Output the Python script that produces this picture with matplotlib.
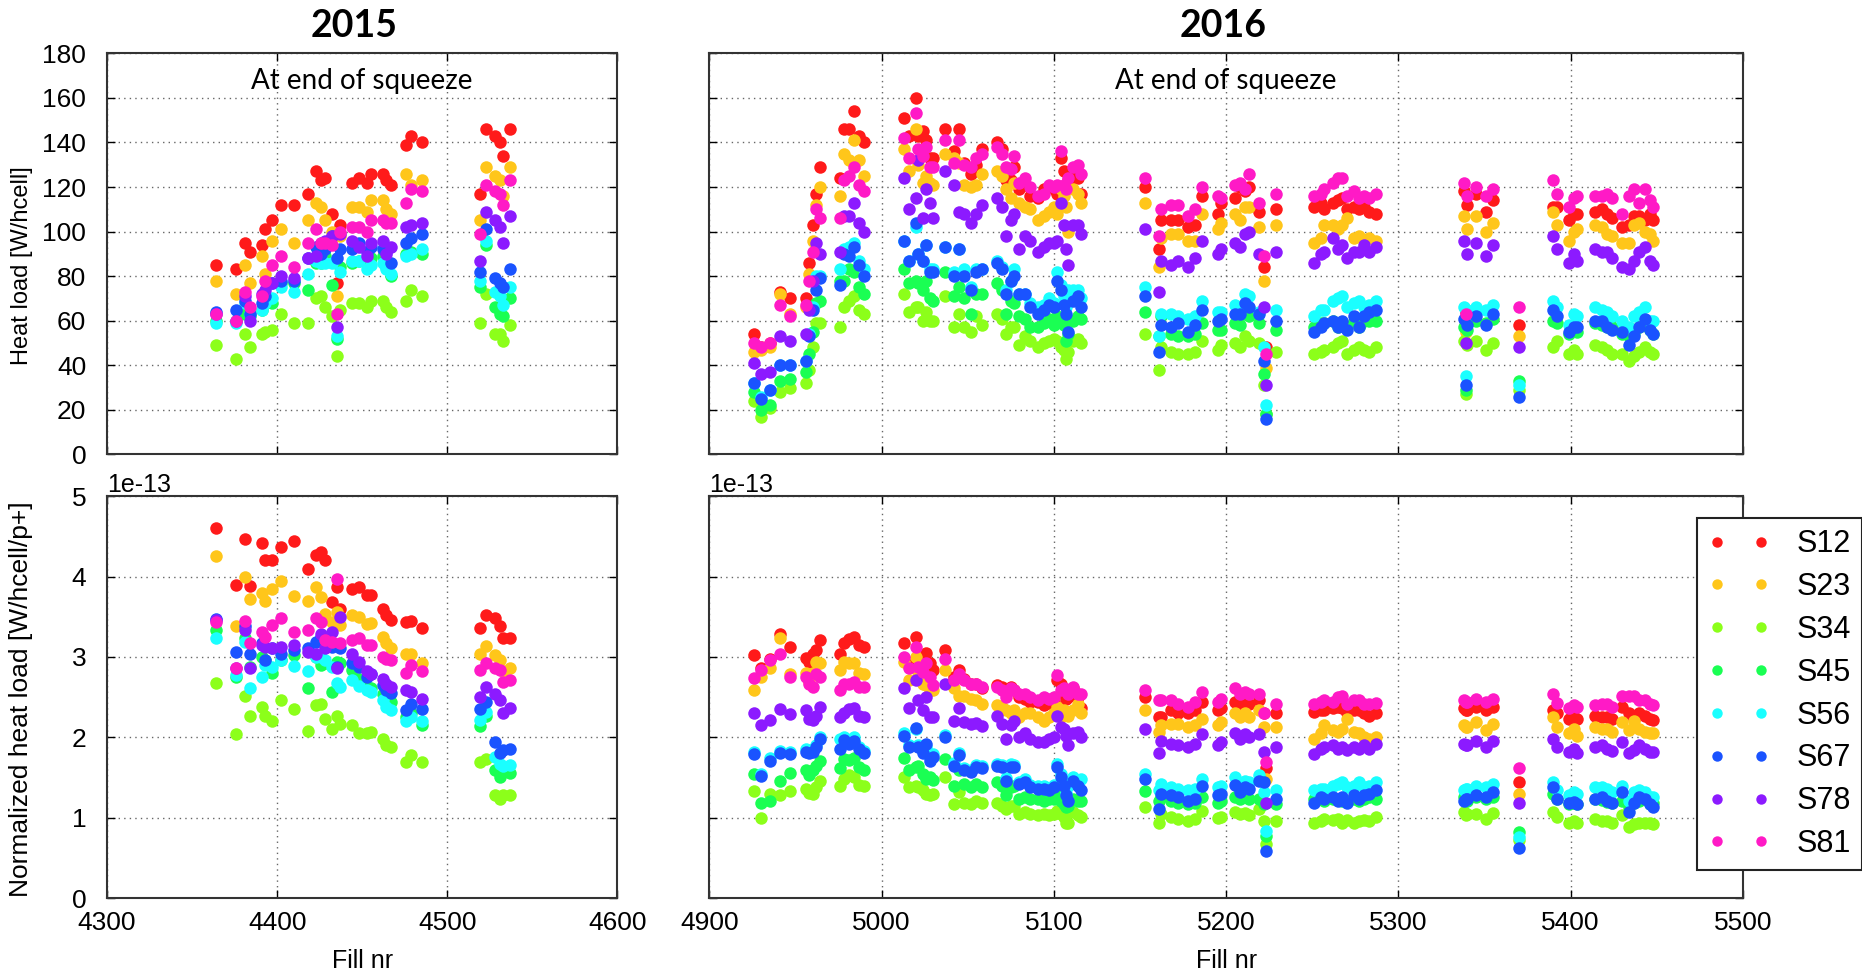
import numpy as np
import matplotlib
matplotlib.use("Agg")
import matplotlib.pyplot as plt
from matplotlib.lines import Line2D

plt.rcParams['font.family'] = ['Liberation Sans', 'DejaVu Sans']
plt.rcParams['axes.unicode_minus'] = False

sectors = ['S12', 'S23', 'S34', 'S45', 'S56', 'S67', 'S78', 'S81']
colors = ['#ff1a1a', '#ffc61a', '#8cff1a', '#1aff53', '#1affff', '#1a53ff', '#8c1aff', '#ff1ac6']

# 2015 fills, heat load at end of squeeze [W/hcell], normalized [1e-13 W/hcell/p+]
# columns: S12 S23 S34 S45 S56 S67 S78 S81
fills_2015 = [4364, 4376, 4381, 4384, 4391, 4393, 4397, 4402, 4410, 4418, 4423, 4426,
              4428, 4432, 4435, 4437, 4444, 4448, 4453, 4455, 4462, 4464, 4467, 4476,
              4479, 4485, 4519, 4523, 4528, 4531, 4533, 4537]
heat_2015 = [
    [85, 78, 49, 60, 59, 64, 63, 63],
    [83, 72, 43, 60, 59, 65, 60, 60],
    [95, 85, 54, 63, 68, 69, 71, 73],
    [91, 77, 48, 62, 63, 63, 60, 66],
    [94, 89, 54, 65, 65, 68, 72, 71],
    [101, 81, 55, 68, 68, 71, 74, 78],
    [105, 96, 56, 68, 70, 77, 77, 85],
    [112, 101, 63, 77, 75, 78, 80, 89],
    [112, 95, 59, 77, 73, 78, 79, 84],
    [117, 105, 59, 74, 81, 88, 88, 95],
    [127, 113, 70, 86, 87, 93, 89, 101],
    [123, 111, 71, 86, 86, 90, 95, 95],
    [124, 105, 66, 89, 86, 92, 96, 95],
    [108, 100, 62, 76, 86, 98, 98, 94],
    [77, 71, 44, 52, 53, 88, 57, 63],
    [103, 98, 65, 84, 82, 92, 99, 100],
    [122, 111, 68, 86, 87, 92, 96, 102],
    [124, 111, 68, 87, 87, 95, 93, 102],
    [122, 109, 66, 86, 83, 91, 89, 100],
    [126, 114, 69, 88, 85, 93, 95, 105],
    [126, 114, 69, 89, 86, 92, 96, 105],
    [123, 110, 66, 84, 83, 91, 90, 104],
    [121, 108, 64, 80, 81, 86, 93, 104],
    [139, 126, 69, 90, 89, 95, 102, 113],
    [143, 121, 74, 91, 90, 97, 103, 119],
    [140, 123, 71, 90, 92, 99, 104, 118],
    [117, 105, 59, 75, 78, 82, 87, 99],
    [146, 129, 72, 94, 96, 101, 109, 121],
    [143, 125, 54, 66, 73, 79, 105, 118],
    [140, 123, 54, 63, 71, 77, 102, 117],
    [134, 116, 51, 62, 67, 75, 95, 112],
    [146, 129, 58, 70, 75, 83, 107, 123],
]
norm_2015 = [
    [4.60, 4.25, 2.68, 3.33, 3.24, 3.47, 3.46, 3.44],
    [3.90, 3.38, 2.04, 2.75, 2.77, 3.06, 2.86, 2.86],
    [4.47, 3.99, 2.52, 3.23, 3.19, 3.38, 3.33, 3.45],
    [3.88, 3.72, 2.27, 2.88, 2.61, 3.04, 2.86, 3.17],
    [4.42, 3.79, 2.38, 3.00, 2.75, 3.17, 3.15, 3.31],
    [4.21, 3.70, 2.26, 2.96, 2.90, 2.96, 3.13, 3.25],
    [4.21, 3.84, 2.21, 2.80, 2.88, 3.11, 3.11, 3.40],
    [4.37, 3.95, 2.46, 2.96, 2.96, 3.04, 3.13, 3.48],
    [4.44, 3.76, 2.35, 3.02, 2.89, 3.09, 3.15, 3.31],
    [4.10, 3.69, 2.08, 2.61, 2.82, 3.11, 3.06, 3.33],
    [4.27, 3.87, 2.40, 3.00, 3.00, 3.19, 3.04, 3.49],
    [4.31, 3.75, 2.42, 2.90, 3.00, 3.25, 3.29, 3.44],
    [4.20, 3.54, 2.23, 2.92, 2.96, 3.21, 3.11, 3.21],
    [3.68, 3.44, 2.11, 2.57, 2.88, 3.13, 3.31, 3.19],
    [3.87, 3.56, 2.27, 2.94, 2.68, 2.88, 2.86, 3.97],
    [3.60, 3.40, 2.17, 2.92, 2.63, 3.11, 3.50, 3.17],
    [3.85, 3.52, 2.16, 2.84, 2.71, 2.92, 3.04, 3.21],
    [3.87, 3.50, 2.05, 2.73, 2.64, 2.88, 2.94, 3.23],
    [3.77, 3.41, 2.05, 2.63, 2.59, 2.75, 2.82, 3.15],
    [3.77, 3.42, 2.07, 2.61, 2.57, 2.79, 2.79, 3.15],
    [3.60, 3.25, 1.98, 2.54, 2.46, 2.65, 2.73, 3.00],
    [3.52, 3.18, 1.90, 2.46, 2.38, 2.59, 2.67, 2.97],
    [3.46, 3.11, 1.88, 2.44, 2.34, 2.55, 2.63, 2.96],
    [3.44, 3.04, 1.70, 2.25, 2.21, 2.34, 2.59, 2.80],
    [3.45, 3.04, 1.78, 2.30, 2.25, 2.41, 2.57, 2.90],
    [3.36, 2.93, 1.70, 2.15, 2.20, 2.35, 2.48, 2.83],
    [3.36, 3.04, 1.70, 2.14, 2.22, 2.35, 2.50, 2.84],
    [3.52, 3.14, 1.73, 2.27, 2.32, 2.44, 2.63, 2.93],
    [3.48, 3.02, 1.28, 1.59, 1.76, 1.94, 2.54, 2.86],
    [3.38, 2.96, 1.23, 1.51, 1.67, 1.80, 2.46, 2.84],
    [3.23, 2.83, 1.28, 1.57, 1.64, 1.84, 2.30, 2.69],
    [3.23, 2.86, 1.29, 1.56, 1.66, 1.85, 2.36, 2.72],
]

fills_2016 = [4926, 4930, 4935, 4941, 4947, 4956, 4958, 4960, 4962, 4964, 4976, 4978,
              4981, 4984, 4987, 4990, 5013, 5016, 5020, 5021, 5024, 5026, 5028, 5030,
              5037, 5042, 5045, 5048, 5052, 5055, 5058, 5067, 5070, 5072, 5075, 5077,
              5080, 5083, 5086, 5091, 5094, 5097, 5100, 5102, 5104, 5106, 5107, 5108,
              5111, 5114, 5116, 5153, 5161, 5162, 5168, 5172, 5178, 5182, 5186, 5195,
              5197, 5205, 5208, 5211, 5213, 5219, 5222, 5223, 5229, 5251, 5255, 5257,
              5262, 5265, 5267, 5270, 5274, 5277, 5280, 5283, 5287, 5338, 5339, 5340,
              5345, 5351, 5355, 5370, 5390, 5392, 5399, 5402, 5404, 5414, 5418, 5421,
              5424, 5430, 5434, 5437, 5440, 5443, 5446, 5448]
heat_2016 = [
    [54, 46, 24, 28, 32, 32, 41, 50],
    [48, 47, 17, 20, 26, 25, 36, 48],
    [50, 48, 21, 22, 29, 29, 37, 50],
    [73, 72, 28, 33, 40, 40, 53, 67],
    [70, 63, 30, 34, 40, 40, 51, 62],
    [70, 66, 32, 37, 42, 42, 54, 67],
    [86, 81, 38, 45, 54, 53, 65, 78],
    [103, 96, 48, 55, 66, 65, 78, 91],
    [117, 112, 59, 68, 80, 74, 95, 110],
    [129, 120, 59, 69, 80, 79, 90, 106],
    [124, 116, 57, 78, 83, 76, 91, 106],
    [146, 135, 66, 78, 92, 90, 107, 123],
    [146, 132, 69, 83, 93, 89, 107, 125],
    [154, 141, 71, 82, 95, 93, 113, 129],
    [143, 132, 65, 75, 87, 85, 104, 121],
    [140, 125, 63, 72, 83, 80, 100, 118],
    [151, 137, 72, 83, 96, 96, 124, 142],
    [143, 127, 64, 77, 87, 87, 110, 133],
    [160, 146, 66, 78, 102, 104, 115, 153],
    [143, 130, 66, 77, 90, 90, 132, 137],
    [145, 122, 60, 74, 87, 87, 106, 134],
    [141, 125, 64, 78, 94, 94, 119, 138],
    [133, 122, 60, 70, 83, 82, 113, 129],
    [133, 121, 60, 69, 83, 82, 106, 129],
    [146, 135, 71, 82, 93, 93, 127, 141],
    [136, 133, 57, 71, 82, 80, 121, 131],
    [146, 131, 63, 75, 92, 92, 109, 141],
    [131, 121, 57, 70, 83, 80, 108, 130],
    [126, 120, 55, 63, 75, 74, 104, 129],
    [130, 121, 62, 72, 83, 82, 108, 133],
    [137, 126, 58, 72, 83, 83, 112, 135],
    [140, 127, 63, 77, 87, 86, 115, 138],
    [137, 125, 61, 74, 84, 83, 111, 135],
    [123, 119, 54, 63, 74, 72, 98, 129],
    [123, 115, 57, 69, 78, 78, 105, 128],
    [129, 122, 57, 68, 83, 80, 108, 134],
    [119, 113, 49, 62, 72, 72, 92, 122],
    [121, 111, 53, 61, 72, 72, 98, 124],
    [116, 110, 51, 57, 68, 66, 96, 120],
    [115, 105, 48, 57, 66, 63, 91, 116],
    [119, 107, 50, 59, 67, 65, 93, 117],
    [120, 109, 51, 61, 70, 67, 95, 121],
    [119, 111, 52, 58, 68, 66, 95, 120],
    [117, 108, 51, 62, 82, 78, 96, 121],
    [133, 119, 48, 60, 76, 74, 113, 136],
    [127, 116, 47, 58, 71, 67, 103, 121],
    [120, 111, 43, 51, 66, 63, 92, 119],
    [123, 100, 46, 54, 74, 55, 85, 124],
    [124, 119, 51, 60, 74, 69, 103, 129],
    [124, 117, 52, 62, 74, 71, 103, 130],
    [117, 113, 50, 61, 70, 66, 99, 126],
    [120, 113, 54, 64, 75, 71, 101, 124],
    [92, 84, 38, 53, 53, 46, 73, 98],
    [105, 97, 48, 62, 63, 58, 87, 110],
    [105, 99, 46, 54, 63, 57, 85, 112],
    [105, 99, 45, 53, 62, 59, 87, 112],
    [102, 96, 45, 53, 61, 55, 84, 107],
    [103, 96, 46, 54, 62, 58, 88, 110],
    [116, 108, 51, 59, 69, 65, 96, 120],
    [108, 101, 47, 56, 64, 60, 90, 116],
    [113, 104, 49, 56, 64, 61, 92, 115],
    [115, 108, 50, 59, 67, 63, 95, 121],
    [120, 105, 48, 58, 66, 63, 93, 122],
    [118, 111, 53, 63, 72, 68, 99, 119],
    [120, 111, 51, 62, 71, 66, 100, 126],
    [109, 102, 50, 59, 64, 63, 90, 113],
    [84, 78, 31, 36, 48, 42, 66, 89],
    [48, 39, 18, 18, 22, 16, 31, 45],
    [110, 103, 46, 56, 65, 60, 91, 117],
    [111, 95, 45, 57, 62, 55, 86, 116],
    [113, 97, 46, 59, 65, 57, 90, 117],
    [110, 103, 47, 59, 65, 59, 91, 119],
    [113, 103, 48, 60, 69, 60, 97, 122],
    [114, 101, 50, 57, 70, 57, 92, 124],
    [115, 103, 51, 59, 71, 60, 94, 124],
    [110, 106, 45, 57, 66, 56, 88, 116],
    [111, 97, 47, 60, 68, 62, 91, 118],
    [110, 98, 48, 57, 69, 57, 91, 115],
    [111, 96, 47, 60, 66, 62, 94, 116],
    [109, 97, 46, 60, 67, 64, 91, 115],
    [108, 96, 48, 60, 69, 65, 93, 117],
    [118, 107, 51, 57, 66, 61, 96, 122],
    [64, 55, 27, 29, 35, 31, 50, 63],
    [112, 101, 49, 56, 65, 58, 90, 116],
    [117, 107, 51, 60, 66, 62, 95, 120],
    [109, 100, 47, 59, 65, 58, 89, 116],
    [114, 104, 50, 61, 67, 63, 94, 119],
    [58, 53, 29, 33, 31, 26, 48, 66],
    [111, 109, 48, 60, 69, 65, 98, 123],
    [111, 103, 51, 59, 66, 62, 92, 117],
    [105, 96, 45, 54, 58, 55, 86, 111],
    [108, 100, 47, 56, 63, 57, 90, 115],
    [108, 101, 45, 55, 62, 57, 87, 116],
    [109, 103, 49, 59, 66, 60, 92, 116],
    [110, 102, 48, 58, 65, 60, 91, 116],
    [108, 99, 47, 57, 64, 57, 91, 117],
    [106, 98, 45, 57, 62, 56, 88, 115],
    [102, 95, 45, 54, 60, 55, 84, 108],
    [103, 95, 42, 53, 57, 49, 83, 116],
    [107, 103, 44, 54, 62, 53, 87, 119],
    [107, 104, 46, 57, 64, 57, 91, 113],
    [105, 100, 48, 58, 66, 61, 93, 119],
    [108, 99, 46, 56, 60, 56, 87, 114],
    [105, 96, 45, 54, 60, 54, 85, 111],
]
norm_2016 = [
    [3.02, 2.59, 1.33, 1.55, 1.82, 1.79, 2.30, 2.74],
    [2.86, 2.75, 1.00, 1.18, 1.55, 1.52, 2.15, 2.84],
    [2.98, 2.86, 1.30, 1.21, 1.74, 1.71, 2.22, 2.96],
    [3.28, 3.23, 1.28, 1.46, 1.83, 1.80, 2.35, 3.04],
    [3.13, 2.79, 1.33, 1.56, 1.82, 1.79, 2.29, 2.75],
    [2.99, 2.80, 1.36, 1.59, 1.85, 1.82, 2.34, 2.75],
    [2.94, 2.69, 1.31, 1.53, 1.83, 1.80, 2.23, 2.66],
    [3.04, 2.80, 1.30, 1.59, 1.85, 1.82, 2.22, 2.63],
    [3.09, 2.94, 1.38, 1.64, 1.91, 1.88, 2.27, 2.79],
    [3.21, 2.93, 1.46, 1.71, 2.01, 1.98, 2.38, 2.75],
    [3.04, 2.84, 1.40, 1.62, 1.98, 1.85, 2.25, 2.59],
    [3.18, 2.94, 1.48, 1.73, 2.01, 1.97, 2.30, 2.67],
    [3.22, 2.93, 1.53, 1.72, 1.95, 1.92, 2.35, 2.67],
    [3.25, 2.92, 1.51, 1.75, 2.00, 1.96, 2.36, 2.69],
    [3.15, 2.80, 1.41, 1.63, 1.88, 1.85, 2.27, 2.63],
    [3.13, 2.79, 1.40, 1.60, 1.83, 1.80, 2.25, 2.63],
    [3.18, 2.94, 1.51, 1.75, 2.05, 2.02, 2.61, 3.00],
    [2.90, 2.71, 1.38, 1.59, 1.91, 1.88, 2.37, 2.86],
    [3.25, 3.00, 1.40, 1.63, 2.10, 2.12, 2.71, 3.13],
    [2.96, 2.81, 1.38, 1.64, 1.91, 1.88, 2.46, 2.88],
    [2.88, 2.67, 1.34, 1.55, 1.83, 1.80, 2.34, 2.81],
    [3.05, 2.65, 1.30, 1.48, 1.88, 1.92, 2.50, 2.92],
    [2.93, 2.59, 1.28, 1.51, 1.74, 1.71, 2.25, 2.75],
    [2.84, 2.59, 1.30, 1.47, 1.79, 1.76, 2.25, 2.65],
    [3.09, 2.84, 1.51, 1.73, 2.03, 2.00, 2.67, 2.98],
    [2.75, 2.61, 1.17, 1.40, 1.68, 1.65, 2.21, 2.72],
    [2.84, 2.52, 1.32, 1.59, 1.81, 1.78, 2.36, 2.79],
    [2.73, 2.51, 1.19, 1.42, 1.62, 1.59, 2.19, 2.71],
    [2.66, 2.48, 1.17, 1.38, 1.60, 1.57, 2.17, 2.67],
    [2.67, 2.46, 1.21, 1.42, 1.66, 1.63, 2.18, 2.67],
    [2.61, 2.42, 1.18, 1.38, 1.65, 1.62, 2.14, 2.63],
    [2.65, 2.40, 1.19, 1.44, 1.67, 1.65, 2.27, 2.63],
    [2.63, 2.38, 1.15, 1.40, 1.66, 1.63, 2.17, 2.59],
    [2.59, 2.34, 1.11, 1.28, 1.49, 1.46, 1.98, 2.50],
    [2.63, 2.30, 1.15, 1.38, 1.67, 1.63, 2.15, 2.61],
    [2.59, 2.34, 1.15, 1.40, 1.66, 1.63, 2.21, 2.59],
    [2.50, 2.25, 1.05, 1.23, 1.45, 1.42, 2.00, 2.54],
    [2.48, 2.30, 1.07, 1.26, 1.48, 1.44, 2.05, 2.54],
    [2.44, 2.30, 1.05, 1.23, 1.41, 1.38, 1.98, 2.50],
    [2.44, 2.25, 1.03, 1.23, 1.39, 1.36, 1.94, 2.46],
    [2.40, 2.21, 1.05, 1.21, 1.39, 1.36, 1.94, 2.50],
    [2.43, 2.25, 1.03, 1.23, 1.37, 1.34, 1.98, 2.48],
    [2.44, 2.30, 1.05, 1.23, 1.41, 1.38, 2.00, 2.50],
    [2.71, 2.38, 1.09, 1.34, 1.67, 1.63, 2.27, 2.77],
    [2.67, 2.25, 1.05, 1.21, 1.54, 1.51, 2.13, 2.59],
    [2.54, 2.34, 1.01, 1.17, 1.43, 1.40, 2.11, 2.61],
    [2.48, 2.30, 0.94, 1.13, 1.31, 1.28, 2.02, 2.59],
    [2.50, 2.27, 0.94, 1.15, 1.40, 1.21, 1.90, 2.54],
    [2.61, 2.34, 1.07, 1.23, 1.51, 1.46, 2.05, 2.63],
    [2.50, 2.41, 1.03, 1.21, 1.43, 1.40, 2.07, 2.54],
    [2.36, 2.30, 1.01, 1.21, 1.48, 1.34, 2.00, 2.54],
    [2.50, 2.34, 1.13, 1.33, 1.55, 1.48, 2.11, 2.59],
    [2.25, 2.07, 0.94, 1.21, 1.34, 1.11, 1.80, 2.46],
    [2.25, 2.15, 1.05, 1.26, 1.42, 1.30, 1.96, 2.46],
    [2.34, 2.17, 1.01, 1.21, 1.38, 1.28, 1.92, 2.46],
    [2.30, 2.17, 0.98, 1.19, 1.36, 1.26, 1.90, 2.42],
    [2.30, 2.13, 0.96, 1.17, 1.34, 1.21, 1.88, 2.38],
    [2.34, 2.15, 0.98, 1.19, 1.36, 1.23, 1.92, 2.44],
    [2.44, 2.23, 1.09, 1.26, 1.48, 1.39, 2.04, 2.57],
    [2.34, 2.15, 1.00, 1.19, 1.38, 1.28, 1.90, 2.44],
    [2.36, 2.19, 1.01, 1.21, 1.40, 1.30, 1.94, 2.48],
    [2.44, 2.30, 1.07, 1.26, 1.51, 1.41, 2.05, 2.61],
    [2.42, 2.25, 1.05, 1.23, 1.42, 1.32, 1.98, 2.54],
    [2.44, 2.30, 1.06, 1.26, 1.46, 1.38, 2.04, 2.57],
    [2.42, 2.25, 1.04, 1.23, 1.44, 1.36, 2.00, 2.54],
    [2.46, 2.34, 1.11, 1.23, 1.53, 1.46, 2.04, 2.54],
    [2.30, 2.13, 0.96, 1.17, 1.32, 1.44, 1.82, 2.30],
    [1.62, 1.48, 0.67, 0.78, 0.84, 0.59, 1.19, 1.69],
    [2.30, 2.13, 0.96, 1.17, 1.34, 1.23, 1.88, 2.42],
    [2.32, 1.98, 0.94, 1.23, 1.34, 1.19, 1.79, 2.42],
    [2.34, 2.05, 0.96, 1.26, 1.36, 1.26, 1.86, 2.44],
    [2.34, 2.15, 0.98, 1.21, 1.36, 1.23, 1.88, 2.46],
    [2.36, 2.09, 0.97, 1.23, 1.40, 1.26, 1.90, 2.44],
    [2.38, 2.07, 0.98, 1.23, 1.42, 1.21, 1.86, 2.50],
    [2.37, 2.11, 0.94, 1.21, 1.44, 1.26, 1.88, 2.52],
    [2.30, 2.23, 0.97, 1.21, 1.38, 1.19, 1.84, 2.42],
    [2.34, 2.07, 0.94, 1.23, 1.40, 1.28, 1.88, 2.46],
    [2.34, 2.05, 0.96, 1.21, 1.44, 1.23, 1.85, 2.46],
    [2.30, 2.00, 0.97, 1.23, 1.38, 1.28, 1.90, 2.42],
    [2.27, 1.98, 0.96, 1.26, 1.40, 1.30, 1.86, 2.41],
    [2.30, 2.00, 1.01, 1.23, 1.44, 1.34, 1.92, 2.43],
    [2.36, 2.15, 1.07, 1.26, 1.34, 1.21, 1.92, 2.46],
    [2.34, 2.13, 1.03, 1.23, 1.36, 1.23, 1.90, 2.44],
    [2.34, 2.13, 1.05, 1.21, 1.36, 1.23, 1.90, 2.44],
    [2.38, 2.19, 1.05, 1.26, 1.40, 1.28, 1.96, 2.48],
    [2.34, 2.09, 0.98, 1.23, 1.38, 1.26, 1.88, 2.44],
    [2.38, 2.17, 1.06, 1.26, 1.42, 1.32, 1.96, 2.48],
    [1.44, 1.30, 0.72, 0.82, 0.76, 0.63, 1.18, 1.62],
    [2.34, 2.25, 1.07, 1.30, 1.44, 1.38, 1.98, 2.54],
    [2.30, 2.13, 1.01, 1.23, 1.34, 1.23, 1.88, 2.43],
    [2.23, 2.05, 0.94, 1.17, 1.28, 1.19, 1.82, 2.36],
    [2.25, 2.11, 0.96, 1.19, 1.32, 1.20, 1.85, 2.40],
    [2.23, 2.02, 0.93, 1.17, 1.30, 1.17, 1.80, 2.38],
    [2.27, 2.13, 0.98, 1.23, 1.38, 1.23, 1.88, 2.40],
    [2.25, 2.11, 0.96, 1.22, 1.38, 1.26, 1.90, 2.41],
    [2.25, 2.10, 0.96, 1.20, 1.36, 1.21, 1.86, 2.42],
    [2.23, 2.07, 0.94, 1.19, 1.32, 1.19, 1.83, 2.38],
    [2.38, 2.19, 1.03, 1.21, 1.40, 1.32, 1.94, 2.52],
    [2.30, 2.09, 0.88, 1.13, 1.21, 1.07, 1.80, 2.52],
    [2.23, 2.21, 0.92, 1.19, 1.32, 1.19, 1.84, 2.52],
    [2.30, 2.11, 0.94, 1.21, 1.34, 1.26, 1.90, 2.46],
    [2.27, 2.07, 0.94, 1.23, 1.32, 1.23, 1.85, 2.46],
    [2.23, 2.05, 0.93, 1.17, 1.26, 1.17, 1.82, 2.42],
    [2.22, 2.05, 0.92, 1.19, 1.26, 1.13, 1.82, 2.40],
]

fig = plt.figure(figsize=(18.62, 9.69), dpi=100)
ax_tl = fig.add_axes([0.0575, 0.531, 0.274, 0.414])
ax_tr = fig.add_axes([0.381, 0.531, 0.555, 0.414])
ax_bl = fig.add_axes([0.0575, 0.073, 0.274, 0.415])
ax_br = fig.add_axes([0.381, 0.073, 0.555, 0.415])

panels = [(ax_tl, fills_2015, heat_2015, 1.0), (ax_tr, fills_2016, heat_2016, 1.0),
          (ax_bl, fills_2015, norm_2015, 1e-13), (ax_br, fills_2016, norm_2016, 1e-13)]

for ax, fills, vals, scale in panels:
    vals = np.array(vals) * scale
    for k in range(8):
        ax.plot(fills, vals[:, k], 'o', color=colors[k], ms=9, mew=0, label=sectors[k])
    ax.grid(True, color='#666666', linestyle=(0, (1, 3)), linewidth=1)
    ax.tick_params(direction='in', top=True, right=True, length=6, width=1, labelsize=19)
    ax.tick_params(axis='x', pad=9)
    ax.tick_params(axis='y', pad=15)
    for sp in ax.spines.values():
        sp.set_linewidth(1.5)
        sp.set_color('#333333')

for ax in (ax_tl, ax_bl):
    ax.set_xlim(4300, 4600)
    ax.set_xticks([4300, 4400, 4500, 4600])
for ax in (ax_tr, ax_br):
    ax.set_xlim(4900, 5500)
    ax.set_xticks(np.arange(4900, 5501, 100))

for ax in (ax_tl, ax_tr):
    ax.set_ylim(0, 180)
    ax.set_yticks(np.arange(0, 181, 20))
    ax.tick_params(labelbottom=False)
    ax.text(0.5, 0.93, 'At end of squeeze', transform=ax.transAxes, ha='center', va='center',
            fontsize=20, family=['Lato', 'DejaVu Sans'])
for ax in (ax_bl, ax_br):
    ax.set_ylim(0, 5e-13)
    ax.set_yticks(np.arange(0, 6) * 1e-13)
    ax.set_xlabel('Fill nr', fontsize=18, labelpad=10)
    ax.yaxis.offsetText.set_fontsize(18)

ax_tr.tick_params(labelleft=False)
ax_br.tick_params(labelleft=False)
ax_br.yaxis.offsetText.set_visible(True)

ax_tl.set_ylabel('Heat load [W/hcell]', fontsize=17)
ax_bl.set_ylabel('Normalized heat load [W/hcell/p+]', fontsize=19)
ax_tl.yaxis.set_label_coords(-0.145, 0.47)
ax_bl.yaxis.set_label_coords(-0.145, 0.494)

fig.text(354 / 1862, 1 - 26 / 969, '2015', ha='center', va='center', fontsize=27,
         fontweight='bold', family=['Lato', 'DejaVu Sans'])
fig.text(1223 / 1862, 1 - 26 / 969, '2016', ha='center', va='center', fontsize=27,
         fontweight='bold', family=['Lato', 'DejaVu Sans'])

handles = [Line2D([], [], linestyle='none', marker='o', ms=7.5, mew=0, color=c) for c in colors]
leg = fig.legend(handles, sectors, loc='upper left', bbox_to_anchor=(1697 / 1862, 1 - 518 / 969),
                 borderaxespad=0, numpoints=2, fontsize=22, fancybox=False, framealpha=1,
                 edgecolor='#222222', borderpad=0.37, labelspacing=0.42, handlelength=2.04,
                 handletextpad=0.85)
leg.get_frame().set_linewidth(1.5)

fig.savefig('out.png', dpi=100)
